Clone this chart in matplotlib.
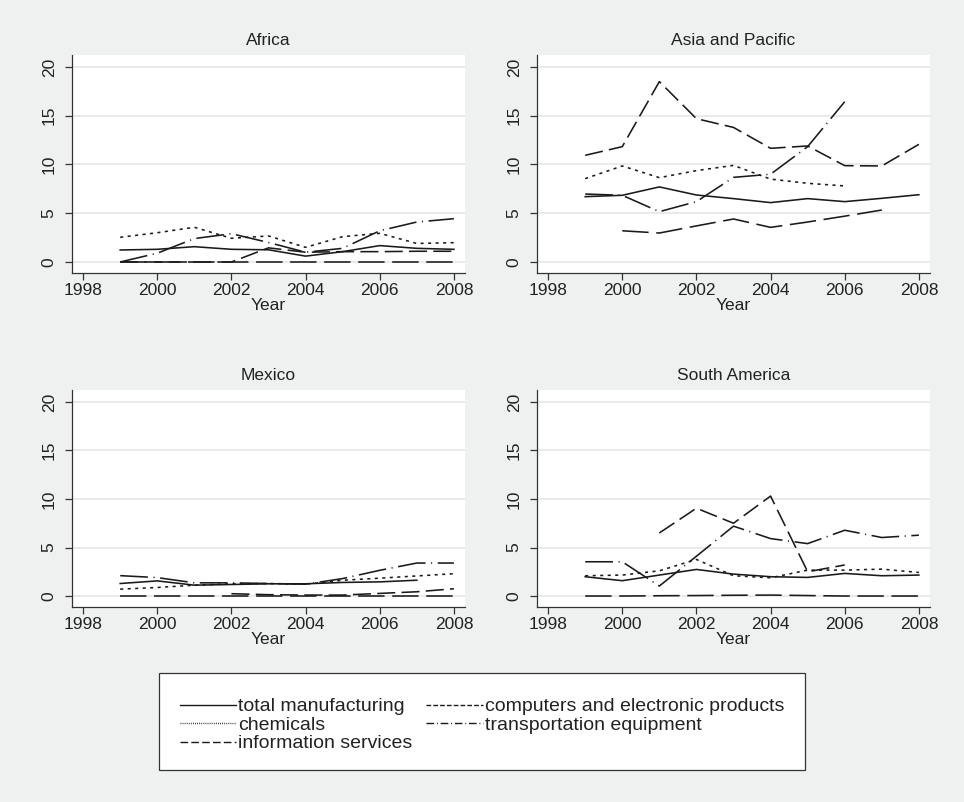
import numpy as np
import matplotlib
matplotlib.use("Agg")
import matplotlib.pyplot as plt
from matplotlib.patches import Rectangle
from matplotlib.lines import Line2D

plt.rcParams['font.family'] = ['Liberation Sans', 'DejaVu Sans']
plt.rcParams['lines.scale_dashes'] = False

nan = np.nan
years = [1999, 2000, 2001, 2002, 2003, 2004, 2005, 2006, 2007, 2008]

# series per region: total, chemicals, computers, transportation, information
africa_total = [1.23, 1.3, 1.57, 1.3, 1.25, 0.6, 1.06, 1.68, 1.4, 1.3]
africa_chem = [2.53, 3.0, 3.56, 2.43, 2.67, 1.5, 2.6, 2.94, 1.9, 1.98]
africa_comp = [0, 0, 0, 0, 1.45, 1.0, 1.06, 1.06, 1.1, 1.1]
africa_trans = [0, 0.9, 2.4, 2.9, 2.0, 1.0, 1.4, 3.2, 4.1, 4.44]
africa_info = [0, 0, 0, 0, 0, 0, 0, 0, 0, 0]

asia_total = [6.7, 6.84, 7.7, 6.87, 6.5, 6.09, 6.5, 6.19, 6.53, 6.9]
asia_chem = [8.55, 9.85, 8.65, 9.37, 9.91, 8.5, 8.07, 7.8, nan, nan]
asia_comp = [10.94, 11.83, 18.5, 14.7, 13.8, 11.66, 11.9, 9.88, 9.85, 12.07]
asia_trans = [6.97, 6.84, 5.16, 6.19, 8.68, 9.0, 11.83, 16.44, nan, nan]
asia_info = [nan, 3.2, 2.97, 3.7, 4.41, 3.55, 4.1, 4.7, 5.33, nan]

mexico_total = [1.29, 1.56, 1.12, 1.19, 1.26, 1.26, 1.4, 1.46, 1.63, nan]
mexico_chem = [0.71, 0.88, 1.12, 1.25, 1.29, 1.22, 1.63, 1.84, 2.07, 2.3]
mexico_comp = [nan, nan, nan, 0.24, 0.14, 0.1, 0.1, 0.27, 0.44, 0.75]
mexico_trans = [2.1, 1.9, 1.36, 1.36, 1.29, 1.22, 1.8, 2.65, 3.4, 3.4]
mexico_info = [0, 0, 0, 0, 0, 0, 0, 0, 0, 0]

sa_total = [1.99, 1.58, 2.16, 2.74, 2.26, 1.99, 1.92, 2.33, 2.09, 2.16]
sa_chem = [2.09, 2.16, 2.6, 3.77, 2.09, 1.88, 2.67, 2.67, 2.77, 2.43]
sa_comp = [nan, nan, 6.5, 9.05, 7.5, 10.3, 2.5, 3.2, nan, nan]
sa_trans = [3.53, 3.53, 1.03, 4.1, 7.2, 5.92, 5.4, 6.78, 6.03, 6.27]
sa_info = [0, 0, 0.03, 0.05, 0.08, 0.1, 0.05, 0, 0, 0]

series_names = ['total manufacturing', 'chemicals', 'computers and electronic products',
                'transportation equipment', 'information services']
# dash patterns in the panels, and the tighter ones used for the legend keys
styles = ['-', (0, (2.2, 3.2)), (0, (13, 4.5)), (0, (20, 4, 0.8, 4)), (0, (19, 5.5))]
key_styles = ['-', (0, (0.6, 0.9)), (0, (3.4, 1.5)), (0, (5.5, 2.0, 0.7, 2.0)), (0, (5.5, 2.3))]

panels = [
    ('Africa', [africa_total, africa_chem, africa_comp, africa_trans, africa_info]),
    ('Asia and Pacific', [asia_total, asia_chem, asia_comp, asia_trans, asia_info]),
    ('Mexico', [mexico_total, mexico_chem, mexico_comp, mexico_trans, mexico_info]),
    ('South America', [sa_total, sa_chem, sa_comp, sa_trans, sa_info]),
]

W, H = 964, 802
bg = '#eff1f1'
ink = '#1a1a1a'
fig = plt.figure(figsize=(W / 100, H / 100), dpi=100, facecolor=bg)

# axes boxes in pixels: left, top, right, bottom
boxes = [(72, 55, 465, 273), (537, 55, 930, 273),
         (72, 390, 465, 607), (537, 390, 930, 607)]

for (title, data), (l, t, r, b) in zip(panels, boxes):
    ax = fig.add_axes([l / W, 1 - b / H, (r - l) / W, (b - t) / H])
    ax.set_facecolor('white')
    for vals, ls in zip(data, styles):
        ax.plot(years, vals, color=ink, linestyle=ls, linewidth=1.15)
    ax.set_xlim(1997.7, 2008.3)
    ax.set_ylim(-1.13, 21.23)
    ax.set_xticks([1998, 2000, 2002, 2004, 2006, 2008])
    ax.set_yticks([0, 5, 10, 15, 20])
    ax.grid(axis='y', color='#e8e8e8', linewidth=1.3)
    ax.set_axisbelow(True)
    for side in ['top', 'right']:
        ax.spines[side].set_visible(False)
    for side in ['left', 'bottom']:
        ax.spines[side].set_color('#333333')
        ax.spines[side].set_linewidth(0.9)
    ax.tick_params(axis='both', length=5, width=0.9, color='#333333',
                   labelsize=12.5, labelcolor='#222222')
    ax.tick_params(axis='x', pad=2)
    ax.tick_params(axis='y', pad=6)
    for lab in ax.get_yticklabels():
        lab.set_rotation(90)
        lab.set_va('center')
    ax.set_xlabel('Year', fontsize=12.5, color='#222222', labelpad=0)
    ax.set_title(title, fontsize=12.5, color='#222222', pad=7)

# legend box
lx0, ly0, lx1, ly1 = 159, 673, 805, 770
fig.patches.append(Rectangle((lx0 / W, 1 - ly1 / H), (lx1 - lx0) / W, (ly1 - ly0) / H,
                             transform=fig.transFigure, facecolor='white',
                             edgecolor='#333333', linewidth=0.9, zorder=0))

handles = [Line2D([], [], color=ink, linestyle=ls, linewidth=1.0) for ls in key_styles]
# row-major order: column 1 then column 2
order = [0, 1, 4, 2, 3]
leg = fig.legend([handles[i] for i in order], [series_names[i] for i in order],
                 ncol=2, loc='upper left', bbox_to_anchor=(170 / W, 1 - 688 / H),
                 frameon=False, fontsize=14, handlelength=2.9, handletextpad=0.12,
                 columnspacing=0.7, labelspacing=0.05, borderpad=0,
                 labelcolor='#222222')

fig.savefig('out.png', dpi=100, facecolor=bg)
